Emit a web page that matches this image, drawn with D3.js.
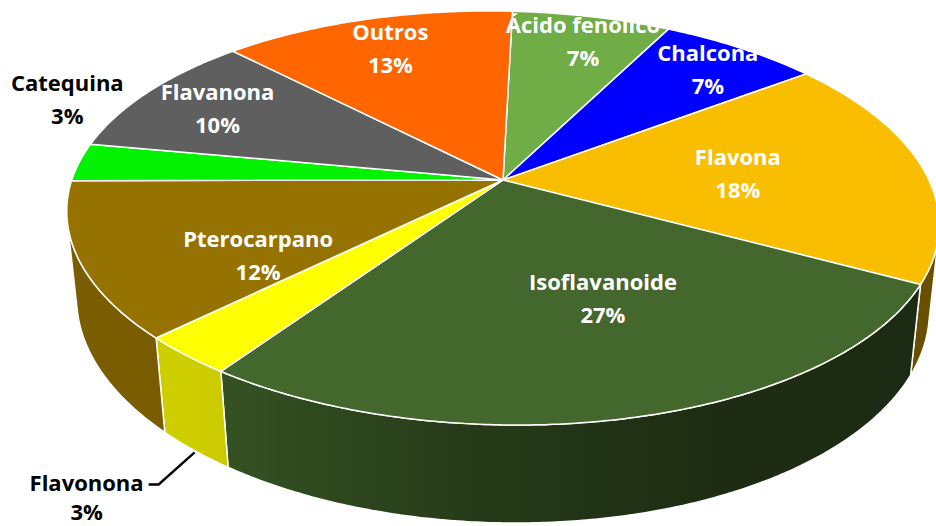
<!DOCTYPE html>
<html>
<head>
<meta charset="utf-8">
<script src="https://cdn.jsdelivr.net/npm/d3@7/dist/d3.min.js"></script>
<style>
  html, body { margin: 0; padding: 0; background: #ffffff; }
  svg { display: block; }
  text { font-family: "Open Sans", Lato, sans-serif; font-weight: 700; }
</style>
</head>
<body>
<svg id="chart" width="936" height="526"></svg>
<script>
// Slice data, clockwise from the top
const categories = ["Ácido fenolico", "Chalcona", "Flavona", "Isoflavanoide", "Flavonona",
                    "Pterocarpano", "Catequina", "Flavanona", "Outros"];
const percentages = [7, 7, 18, 27, 3, 12, 3, 10, 13];
const sliceColors = ["#70ad47", "#0000ff", "#fabe00", "#43672c", "#ffff00",
                     "#967200", "#02f202", "#5f5f5f", "#ff6600"];

// Label layout: radial fraction and small angular nudge (degrees) per slice;
// slices whose label sits outside the pie are flagged.
const labelRadius = [0.833, 0.832, 0.556, 0.567, 1.0, 0.647, 1.16, 0.794, 0.80];
const labelTurn   = [0.8, 0.6, 0, -7.1, 0, -10.9, 16.7, 0, 0];
const labelOutside = [false, false, false, false, true, false, true, false, false];

const W = 936, H = 526;
const FONT_SIZE = 22;
const LINE_GAP = 16.5, TEXT_DROP = 2.5;
const svg = d3.select("#chart");

// --- perspective camera for a tilted cylinder (pie of radius 1, thickness THICK) ---
const FOCAL = 2066, DIST = 4.818, TILT = Math.asin(0.4663);
const sinP = Math.sin(TILT), cosP = Math.cos(TILT);
const THICK = 0.2312, CX = 503, CY = 180, SHEAR = 0.0156;

function project(a, r = 1, h = 0) {
  const x = r * Math.sin(a), c = r * Math.cos(a), y = -h * THICK;
  const depth = DIST - y * sinP + c * cosP;
  const sx = FOCAL * x / depth;
  const sy = FOCAL * (-c * sinP - y * cosP) / depth;
  return [CX + sx, CY + sy + SHEAR * sx];
}

// Angles through d3.pie, rotated a touch from 12 o'clock
const startRot = 1.5 * Math.PI / 180;
const arcs = d3.pie().sort(null).value(d => d)
  .startAngle(startRot).endAngle(startRot + 2 * Math.PI)(percentages);

// Rim visibility limits of the cylinder wall
const silA = Math.acos(-1 / (DIST * cosP));
const silB = 2 * Math.PI - silA;

function rimPoints(a0, a1, h) {
  const n = Math.max(2, Math.ceil(Math.abs(a1 - a0) / (0.5 * Math.PI / 180)));
  return d3.range(n + 1).map(i => project(a0 + (a1 - a0) * i / n, 1, h));
}

// Wall shading darkens from left to right
const shade = d3.scaleLinear()
  .domain([60, 220, 320, 500, 640, 720, 936])
  .range([0.82, 0.80, 0.70, 0.55, 0.47, 0.43, 0.42]);

const defs = svg.append("defs");
function wallGradient(color, i) {
  const g = defs.append("linearGradient")
    .attr("id", "wall" + i).attr("gradientUnits", "userSpaceOnUse")
    .attr("x1", 0).attr("x2", W).attr("y1", 0).attr("y2", 0);
  const base = d3.rgb(color);
  d3.range(0, W + 1, 24).forEach(x => {
    const k = shade(Math.max(60, x));
    g.append("stop").attr("offset", x / W)
      .attr("stop-color", d3.rgb(base.r * k, base.g * k, base.b * k).formatHex());
  });
  return "url(#wall" + i + ")";
}

const line = d3.line();

// Side walls (front part only)
const walls = svg.append("g");
arcs.forEach((d, i) => {
  const a0 = Math.max(d.startAngle, silA), a1 = Math.min(d.endAngle, silB);
  if (a1 <= a0) return;
  const pts = rimPoints(a0, a1, 0).concat(rimPoints(a1, a0, 1));
  walls.append("path")
    .attr("d", line(pts) + "Z")
    .attr("fill", wallGradient(sliceColors[i], i))
    .attr("stroke", "#ffffff").attr("stroke-width", 1.5).attr("stroke-linejoin", "round");
});

// Top faces
const tops = svg.append("g");
arcs.forEach((d, i) => {
  const pts = [project(0, 0, 0)].concat(rimPoints(d.startAngle, d.endAngle, 0));
  tops.append("path")
    .attr("d", line(pts) + "Z")
    .attr("fill", sliceColors[i])
    .attr("stroke", "#ffffff").attr("stroke-width", 1.5).attr("stroke-linejoin", "round");
});

// Labels
const labels = svg.append("g");
const pct = d => d + "%";
arcs.forEach((d, i) => {
  const mid = (d.startAngle + d.endAngle) / 2;
  const fill = labelOutside[i] ? "#000000" : "#ffffff";
  if (labelOutside[i] && labelRadius[i] === 1.0) {
    // label below the wall, tied to it with a leader line
    const s = project(mid, 1, 1.02);
    const elbow = [s[0] - 36, s[1] + 32];
    const end = [elbow[0] - 10, elbow[1]];
    labels.append("path").attr("d", line([s, elbow, end]))
      .attr("fill", "none").attr("stroke", "#000000").attr("stroke-width", 2.4);
    const t1 = labels.append("text").attr("x", end[0] - 5).attr("y", end[1] + 1)
      .attr("text-anchor", "end").attr("dominant-baseline", "middle")
      .attr("font-size", FONT_SIZE).attr("fill", fill).text(categories[i]);
    const w = t1.node().getComputedTextLength();
    labels.append("text").attr("x", end[0] - 5 - w / 2).attr("y", end[1] + 30)
      .attr("text-anchor", "middle").attr("dominant-baseline", "middle")
      .attr("font-size", FONT_SIZE).attr("fill", fill).text(pct(d.data));
    return;
  }
  const p = project(mid + labelTurn[i] * Math.PI / 180, labelRadius[i], 0);
  const t = labels.append("text").attr("text-anchor", "middle")
    .attr("font-size", FONT_SIZE).attr("fill", fill);
  t.append("tspan").attr("x", p[0]).attr("y", p[1] - LINE_GAP + TEXT_DROP)
    .attr("dominant-baseline", "middle").text(categories[i]);
  t.append("tspan").attr("x", p[0]).attr("y", p[1] + LINE_GAP + TEXT_DROP)
    .attr("dominant-baseline", "middle").text(pct(d.data));
});
</script>
</body>
</html>
